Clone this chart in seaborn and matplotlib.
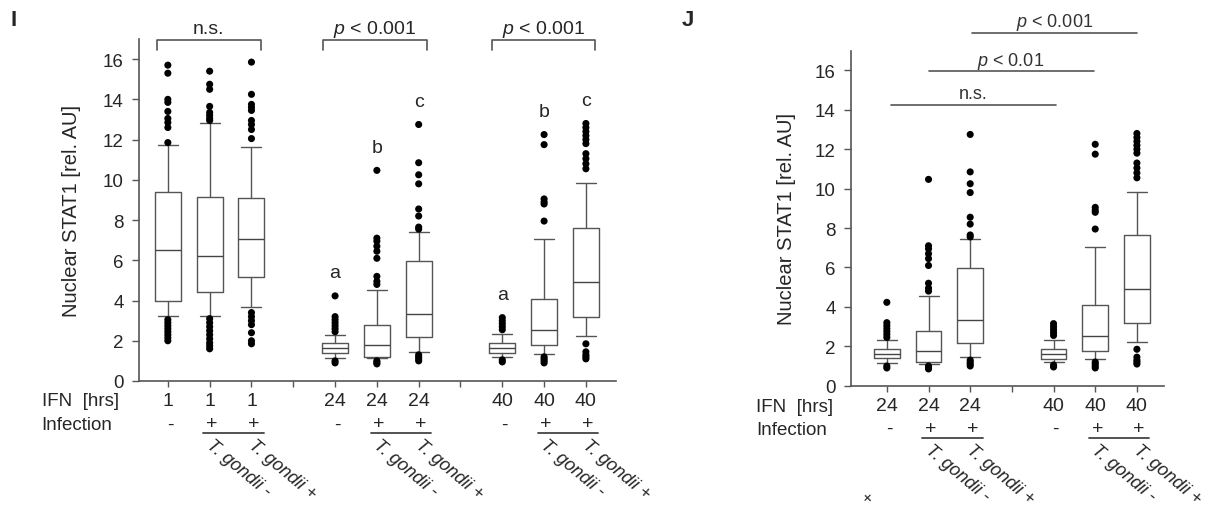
"""
Nuclear STAT1 box plots, panels I and J
"""
import matplotlib
matplotlib.use('Agg')
import matplotlib.pyplot as plt
import matplotlib.transforms as mtransforms
import pandas as pd
import seaborn as sns

sns.set_style('ticks')
plt.rcParams['font.family'] = ['Liberation Sans', 'DejaVu Sans']
plt.rcParams['mathtext.fontset'] = 'custom'
plt.rcParams['mathtext.rm'] = 'Liberation Sans'
plt.rcParams['mathtext.it'] = 'Liberation Sans:italic'

# ---- data ----
ifn_hrs = ['1', '1', '1', '24', '24', '24', '40', '40', '40']
infection = ['-', '+', '+', '-', '+', '+', '-', '+', '+']
strain = ['', 'T. gondii -', 'T. gondii +', '', 'T. gondii -', 'T. gondii +',
          '', 'T. gondii -', 'T. gondii +']
whisker_low = [3.22, 3.25, 3.67, 1.14, 1.12, 1.45, 1.18, 1.33, 2.24]
quart_low = [4.00, 4.44, 5.19, 1.39, 1.21, 2.18, 1.38, 1.78, 3.17]
medians = [6.53, 6.23, 7.06, 1.62, 1.78, 3.33, 1.62, 2.54, 4.90]
quart_high = [9.39, 9.14, 9.10, 1.87, 2.79, 5.98, 1.87, 4.08, 7.63]
whisker_high = [11.72, 12.80, 11.63, 2.30, 4.53, 7.43, 2.33, 7.05, 9.84]
outliers = [
    [15.7, 15.3, 14.0, 13.85, 13.4, 13.05, 12.85, 12.6, 11.85,
     3.05, 2.9, 2.75, 2.6, 2.45, 2.3, 2.15, 2.0],
    [15.4, 14.75, 14.5, 13.65, 13.35, 13.2, 13.05, 12.95,
     3.1, 2.9, 2.7, 2.5, 2.3, 2.1, 1.9, 1.75, 1.6],
    [15.85, 14.25, 13.75, 13.6, 13.45, 12.95, 12.75, 12.5, 12.05,
     3.4, 3.2, 3.0, 2.8, 2.4, 2.0, 1.85],
    [4.23, 3.2, 3.05, 2.9, 2.75, 2.6, 2.45, 1.0, 0.9],
    [10.47, 7.1, 6.95, 6.7, 6.45, 6.1, 5.2, 4.95, 4.8, 1.0, 0.92, 0.85],
    [12.75, 10.85, 10.25, 9.8, 8.55, 8.2, 7.65, 7.55, 1.3, 1.2, 1.1, 1.0],
    [3.15, 3.0, 2.85, 2.7, 2.55, 1.05, 0.95],
    [12.25, 11.75, 9.05, 8.9, 8.8, 7.95, 1.2, 1.1, 1.0, 0.9],
    [12.8, 12.6, 12.4, 12.2, 12.0, 11.8, 11.3, 11.05, 10.8, 10.55,
     1.85, 1.45, 1.3, 1.2, 1.1],
]
letters = ['', '', '', 'a', 'b', 'c', 'a', 'b', 'c']

# panel I: all nine groups, panel J: 24 h and 40 h groups
groups_I = [0, 1, 2, 3, 4, 5, 6, 7, 8]
slots_I = [0, 1, 2, 4, 5, 6, 8, 9, 10]
groups_J = [3, 4, 5, 6, 7, 8]
slots_J = [0, 1, 2, 4, 5, 6]

# significance annotations: (x0, x1, label)
brackets_I = [(-0.27, 2.23, 'n.s.'), (3.70, 6.20, '$p$ < 0.001'),
              (7.75, 10.22, '$p$ < 0.001')]
bars_J = [(0.10, 4.06, 14.26, 'n.s.'), (1.00, 4.96, 15.95, '$p$ < 0.01'),
          (2.05, 6.01, 17.92, '$p$ < 0.001')]

LINE = '#555555'
W, H = 1212, 506
fig = plt.figure(figsize=(W / 100, H / 100), dpi=100)


def below(ax, px):
    """x in data units, y = px pixels under the x axis"""
    return ax.get_xaxis_transform() + mtransforms.ScaledTranslation(
        0, -px / 100, fig.dpi_scale_trans)


def draw_panel(ax, groups, slots, xlim):
    stats = [dict(whislo=whisker_low[g], q1=quart_low[g], med=medians[g],
                  q3=quart_high[g], whishi=whisker_high[g], fliers=[])
             for g in groups]
    lp = dict(color=LINE, linewidth=1.0)
    ax.bxp(stats, positions=slots, widths=0.62, capwidths=0.48,
           showfliers=False, manage_ticks=False,
           boxprops=lp, whiskerprops=lp, capprops=lp,
           medianprops=dict(color='#444444', linewidth=1.0))

    df = pd.DataFrame([(s, v) for g, s in zip(groups, slots) for v in outliers[g]],
                      columns=['slot', 'value'])
    sns.scatterplot(data=df, x='slot', y='value', color='black', s=26,
                    edgecolor='none', legend=False, ax=ax, zorder=3)

    ax.set_xlim(*xlim)
    ax.set_ylim(0, 17)
    ax.set_yticks(range(0, 17, 2))
    ax.tick_params(axis='y', labelsize=13.5, length=5, width=1, color=LINE, pad=6)
    n = int(xlim[1]) + 1
    ax.set_xticks(range(n))
    ax.set_xticklabels([''] * n)
    ax.tick_params(axis='x', length=4, width=1, color=LINE)
    ax.set_xlabel('')
    ax.set_ylabel('Nuclear STAT1 [rel. AU]', fontsize=14.5)
    ax.yaxis.label.set_va('center')
    for side in ['left', 'bottom']:
        ax.spines[side].set_color(LINE)
        ax.spines[side].set_linewidth(1.2)
    sns.despine(ax=ax)

    # rows under the axis
    for g, s in zip(groups, slots):
        ax.text(s, 0, ifn_hrs[g], transform=below(ax, 20), ha='center',
                va='center', fontsize=14)
        ax.text(s + 0.05, 0, infection[g], transform=below(ax, 43),
                ha='center', va='center', fontsize=14)
        if strain[g]:
            ax.text(s + 0.1, 0, strain[g], transform=below(ax, 55),
                    ha='left', va='top', rotation=-40, rotation_mode='anchor',
                    fontsize=13, style='italic')
    for g, s in zip(groups, slots):
        if infection[g] == '+' and strain[g].endswith('-'):
            ax.plot([s - 0.15, s + 1.3], [0, 0], transform=below(ax, 52),
                    color='#444444', lw=1.3, clip_on=False)


# ---- panel I ----
ax_i = fig.add_axes([139 / W, 124 / H, 477 / W, 342 / H])
draw_panel(ax_i, groups_I, slots_I, (-0.69, 10.72))
ax_i.yaxis.set_label_coords(-0.1405, 0.5)
for x0, x1, label in brackets_I:
    ax_i.plot([x0, x0, x1, x1], [16.45, 16.93, 16.93, 16.45], color=LINE,
              lw=1.2, clip_on=False)
    ax_i.text((x0 + x1) / 2, 17.5, label, ha='center', va='center',
              fontsize=14)
for g, s in zip(groups_I, slots_I):
    if letters[g]:
        top = max(outliers[g] + [whisker_high[g]])
        ax_i.text(s, top + 1.15, letters[g], ha='center', va='center',
                  fontsize=14)

# ---- panel J ----
ax_j = fig.add_axes([851 / W, 119.3 / H, 313 / W, 335 / H])
draw_panel(ax_j, groups_J, slots_J, (-0.86, 6.65))
ax_j.yaxis.set_label_coords(-0.205, 0.5)
for x0, x1, y, label in bars_J:
    ax_j.plot([x0, x1], [y, y], color=LINE, lw=1.2, clip_on=False)
    ax_j.text((x0 + x1) / 2, y + 0.55, label, ha='center', va='center',
              fontsize=13, color='#333333')

# row captions and panel letters
for x0 in (41.5, 756):
    y0 = 402 if x0 < 500 else 408
    fig.text(x0 / W, 1 - y0 / H, 'IFN  [hrs]', ha='left', va='center',
             fontsize=13.5)
    fig.text(x0 / W, 1 - (y0 + 23) / H, 'Infection', ha='left', va='center',
             fontsize=13.5)
fig.text(14 / W, 1 - 21 / H, 'I', ha='center', va='center', fontsize=16,
         fontweight='bold')
fig.text(688 / W, 1 - 21 / H, 'J', ha='center', va='center', fontsize=16,
         fontweight='bold')
fig.text(868 / W, 1 - 498 / H, '+', ha='center', va='center', fontsize=12,
         rotation=45)

fig.savefig('out.png', dpi=100)
plt.close(fig)
